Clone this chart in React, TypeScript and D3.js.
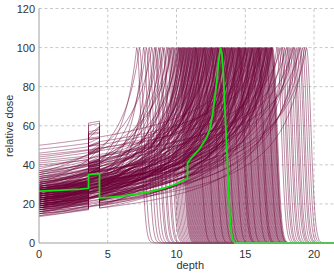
import React from "react";
import * as d3 from "d3";

// Peak depths of the individual dose curves
const peakDepths: number[] = [
  7.1, 7.3, 7.6, 7.8, 8.0, 8.2, 8.4, 8.5, 8.7, 8.8, 9.0, 9.1, 9.3, 9.4, 9.5, 9.6, 9.7, 9.8, 9.9, 10.0,
  10.1, 10.15, 10.2, 10.3, 10.35, 10.4, 10.5, 10.6, 10.65, 10.7, 10.8, 10.9, 10.95, 11.0, 11.1, 11.2, 11.25, 11.3, 11.4, 11.5,
  11.55, 11.6, 11.7, 11.8, 11.85, 11.9, 12.0, 12.1, 12.15, 12.2, 12.3, 12.4, 12.45, 12.5, 12.6, 12.7, 12.75, 12.8, 12.9, 13.0,
  13.05, 13.1, 13.2, 13.3, 13.35, 13.4, 13.5, 13.6, 13.65, 13.7, 13.8, 13.9, 13.95, 14.0, 14.1, 14.2, 14.25, 14.3, 14.4, 14.5,
  14.55, 14.6, 14.7, 14.8, 14.85, 14.9, 15.0, 15.1, 15.15, 15.2, 15.3, 15.4, 15.45, 15.5, 15.6, 15.7, 15.75, 15.8, 15.9, 16.0,
  16.05, 16.1, 16.2, 16.3, 16.35, 16.4, 16.5, 16.6, 16.65, 16.7, 16.8, 16.85, 16.9, 17.0,
  17.3, 17.45, 17.6, 17.7, 17.85, 18.0, 18.1, 18.25, 18.4, 18.5, 18.6, 18.75, 18.9, 19.0, 19.15, 19.3, 19.45,
  10.25, 10.45, 10.75, 11.05, 11.35, 11.45, 11.65, 11.95, 12.05, 12.25, 12.35, 12.55, 12.65, 12.85, 12.95,
  13.15, 13.25, 13.45, 13.55, 13.75, 13.85, 14.05, 14.15, 14.35, 14.45, 14.65, 14.75, 14.95, 15.05, 15.25,
  15.35, 15.55, 15.65, 15.85, 15.95, 16.15, 16.25, 16.45, 16.55, 16.75, 16.95, 10.55, 10.85, 11.15, 11.75,
  12.55, 13.0, 13.5, 14.0, 14.5, 15.0, 15.5, 16.0, 16.5, 12.0, 13.3, 14.6, 15.9, 11.4, 16.9,
];

// Entrance (surface) dose of each curve
const entranceDoses: number[] = [
  24, 31, 18, 27, 15, 36, 22, 20, 29, 17,
  30, 26, 21, 33, 19, 25, 38, 16, 28, 23,
  30, 14, 35, 22, 27, 22, 19, 25, 32, 21,
  26, 17, 23, 29, 30, 20, 24, 34, 18, 27,
  22, 13.5, 31, 25, 37, 21, 28, 16, 23, 30,
  26, 19, 35, 24, 27, 33, 20, 22, 29, 15,
  25, 36, 18, 23, 28, 25, 21, 26, 31, 17,
  24, 20, 27, 34, 22, 19, 29, 39, 25, 14,
  23, 28, 21, 32, 26, 18, 24, 50, 22, 27,
  44, 16, 25, 20, 46, 23, 28, 21, 43, 26,
  19, 24, 31, 48, 29, 17, 25, 37, 20, 27,
  23, 33, 18, 26, 21, 28, 45, 24, 15, 41,
  22, 19, 27, 42, 34, 20, 23, 40, 26, 18, 29,
  21, 27, 18, 24, 30, 16, 25, 22, 28, 19,
  33, 23, 20, 26, 17, 29, 24, 21, 35, 22,
  18, 27, 25, 31, 20, 23, 15, 28, 22, 26,
  19, 32, 24, 21, 27, 17, 30, 23, 25, 20,
  28, 22, 26, 19, 24, 36, 21, 18, 29, 23,
  25, 20, 27, 16, 31, 22, 24, 19, 26, 28,
];

// Dose multiplier inside the slab (3.6 – 4.4)
const slabFactors: number[] = [
  1.18, 1.25, 1.08, 1.2, 1.02, 1.22, 1.15, 1.1, 1.24, 1.05,
  1.2, 1.12, 1.26, 1.06, 1.17, 1.22, 1.1, 1.03, 1.19, 1.27,
  1.09, 1.14, 1.23, 1.01, 1.16, 1.24, 1.11, 1.2, 1.07, 1.25,
  1.13, 1.04, 1.21, 1.18, 1.09, 1.26, 1.15, 1.08, 1.22, 1.12,
  1.19, 1.05, 1.24, 1.1, 1.17, 1.02, 1.23, 1.14, 1.27, 1.06,
  1.2, 1.11, 1.16, 1.25, 1.08, 1.21, 1.13, 1.03, 1.18, 1.24,
  1.1, 1.22, 1.07, 1.15, 1.26, 1.12, 1.04, 1.19, 1.23, 1.09,
  1.17, 1.25, 1.06, 1.21, 1.14, 1.02, 1.2, 1.11, 1.24, 1.16,
  1.08, 1.22, 1.13, 1.27, 1.05, 1.18, 1.1, 1.15, 1.15, 1.07,
  1.2, 1.12, 1.19, 1.03, 1.12, 1.16, 1.09, 1.24, 1.14, 1.2,
  1.06, 1.25, 1.11, 1.18, 1.22, 1.04, 1.13, 1.18, 1.1, 1.23,
  1.15, 1.08, 1.26, 1.12, 1.2, 1.05, 1.17, 1.16, 1.09, 1.21,
  1.14, 1.19, 1.07, 1.2, 1.11, 1.17, 1.22, 1.16, 1.18, 1.13, 1.2,
  1.15, 1.22, 1.08, 1.19, 1.12, 1.25, 1.05, 1.2, 1.1, 1.17,
  1.23, 1.07, 1.14, 1.21, 1.09, 1.18, 1.26, 1.11, 1.16, 1.04,
  1.2, 1.13, 1.24, 1.08, 1.19, 1.15, 1.02, 1.22, 1.1, 1.17,
  1.25, 1.06, 1.21, 1.12, 1.18, 1.09, 1.23, 1.14, 1.2, 1.07,
  1.16, 1.24, 1.11, 1.19, 1.05, 1.22, 1.13, 1.17, 1.26, 1.1,
  1.21, 1.08, 1.15, 1.23, 1.12, 1.18, 1.06, 1.2, 1.14, 1.25,
];

// Highlighted (nominal) curve
const greenDepth: number[] = [
  0, 1, 2, 3, 3.6, 3.6, 4.0, 4.4, 4.4, 5, 6, 7, 8, 9, 10, 10.8, 10.8, 11.2, 11.7, 12.2, 12.45, 12.65, 12.85, 13.0, 13.1, 13.2,
  13.3, 13.4, 13.5, 13.6, 13.68, 13.76, 13.84, 13.92, 14.0, 14.1, 14.25, 22,
];
const greenDose: number[] = [
  26.5, 26.8, 27.2, 27.6, 28, 35, 35.3, 35.5, 23, 23.3, 24, 25, 26.2, 27.8, 30.2, 33, 41, 44.5, 48.5, 54, 59, 67, 78, 88, 95, 100,
  97, 88, 72, 57, 45, 32, 20, 10, 5, 2, 0, 0,
];

const slabStart = 3.6;
const slabEnd = 4.4;

const xTicks = [0, 5, 10, 15, 20];
const yTicks = [0, 20, 40, 60, 80, 100, 120];

const W = 334;
const H = 276;

function bragg(x: number, R: number, d0: number): number {
  const c = 1.1;
  if (x <= R) {
    const k = Math.log(100 / d0) / Math.log((R + c) / c);
    return d0 * Math.pow((R + c) / (R + c - x), k);
  }
  const w = 0.45;
  return 100 * Math.exp(-Math.pow((x - R) / w, 2));
}

export default function App() {
  const x = d3.scaleLinear().domain([0, 22]).range([39, 341.5]);
  const y = d3.scaleLinear().domain([0, 120]).range([243, 8.5]);

  const line = d3
    .line<[number, number]>()
    .x((d) => x(d[0]))
    .y((d) => y(d[1]));

  const grid: number[] = [];
  for (let t = 0; t <= 22.0001; t += 0.05) grid.push(+t.toFixed(3));

  const curves = peakDepths.map((R, i) => {
    const d0 = entranceDoses[i];
    const f = slabFactors[i];
    const ts = grid.concat([R]).sort((a, b) => a - b);
    const pts: [number, number][] = [];
    ts.forEach((t) => {
      const v = bragg(t, R, d0);
      if (Math.abs(t - slabStart) < 1e-6) {
        pts.push([t, v]);
        pts.push([t, v * f]);
      } else if (Math.abs(t - slabEnd) < 1e-6) {
        pts.push([t, v * f]);
        pts.push([t, v]);
      } else if (t > slabStart && t < slabEnd) {
        pts.push([t, v * f]);
      } else {
        pts.push([t, v]);
      }
    });
    return line(pts) as string;
  });

  const green: [number, number][] = greenDepth.map((d, i) => [d, greenDose[i]]);

  const font = "'Liberation Sans', Arial, sans-serif";

  return (
    <svg
      width={W}
      height={H}
      style={{ position: "absolute", left: 0, top: 0, background: "#fff" }}
      fontFamily={font}
    >
      <defs>
        <clipPath id="plot">
          <rect x={39} y={0} width={W - 39} height={244} />
        </clipPath>
      </defs>
      {yTicks
        .filter((t) => t > 0)
        .map((t) => (
          <line
            key={"gy" + t}
            x1={x(0)}
            x2={W}
            y1={y(t)}
            y2={y(t)}
            stroke="#c8c8c8"
            strokeWidth={1}
            strokeDasharray="3,2.5"
          />
        ))}
      {xTicks
        .filter((t) => t > 0)
        .map((t) => (
          <line
            key={"gx" + t}
            x1={x(t)}
            x2={x(t)}
            y1={y(0)}
            y2={y(120)}
            stroke="#c8c8c8"
            strokeWidth={1}
            strokeDasharray="3,2.5"
          />
        ))}
      <g clipPath="url(#plot)">
        {curves.map((p, i) => (
          <path key={i} d={p} fill="none" stroke="#6b0036" strokeOpacity={0.45} strokeWidth={1} />
        ))}
        <path d={line(green) as string} fill="none" stroke="#11e011" strokeWidth={1.8} />
      </g>
      <line x1={x(0)} x2={x(0)} y1={y(0)} y2={y(120)} stroke="#a0a0a0" strokeWidth={1} />
      <line x1={x(0)} x2={W} y1={y(0)} y2={y(0)} stroke="#a0a0a0" strokeWidth={1} />
      {yTicks.map((t) => (
        <text key={"ty" + t} x={35} y={y(t) + 4} textAnchor="end" fontSize={11} fill="#333">
          {t}
        </text>
      ))}
      {xTicks.map((t) => (
        <text key={"tx" + t} x={x(t)} y={258} textAnchor="middle" fontSize={11} fill="#333">
          {t}
        </text>
      ))}
      <text x={x(11)} y={269} textAnchor="middle" fontSize={11} fill="#333">
        depth
      </text>
      <text
        transform={`translate(13, ${y(60)}) rotate(-90)`}
        textAnchor="middle"
        fontSize={11}
        fill="#333"
      >
        relative dose
      </text>
    </svg>
  );
}
